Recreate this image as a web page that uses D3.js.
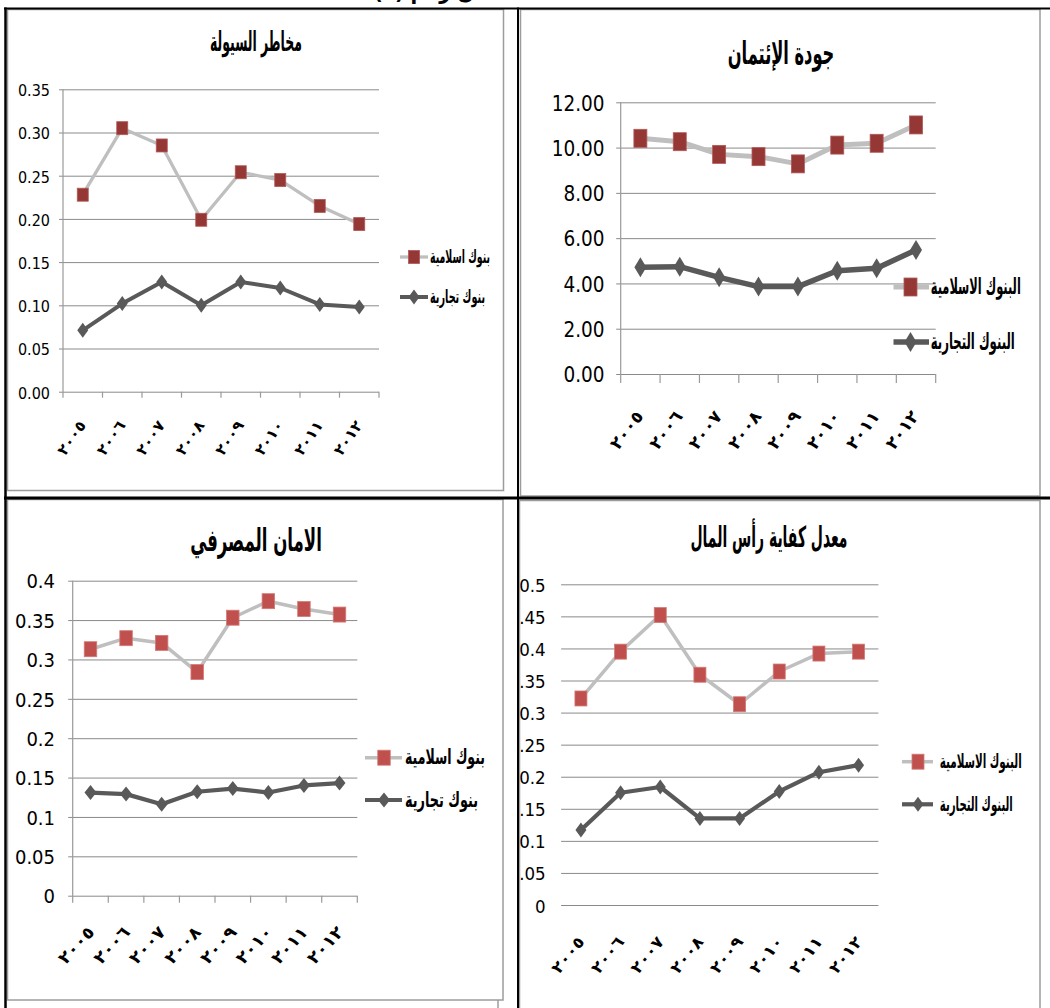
<!DOCTYPE html>
<html><head><meta charset="utf-8">
<script src="https://cdnjs.cloudflare.com/ajax/libs/d3/7.8.5/d3.min.js"></script>
<style>body{margin:0;background:#fff}svg{display:block}</style>
</head><body>
<svg id="c" width="1050" height="1008"></svg>
<script>
// ---------------- DATA ----------------
const years = ["٢٠٠٥","٢٠٠٦","٢٠٠٧","٢٠٠٨","٢٠٠٩","٢٠١٠","٢٠١١","٢٠١٢"];

const titleLiquidity = "مخاطر السيولة";
const titleCredit = "جودة الإئتمان";
const titleSafety = "الامان المصرفي";
const titleCapital = "معدل كفاية رأس المال";

const namesShort = ["بنوك اسلامية", "بنوك تجارية"];
const namesLong = ["البنوك الاسلامية", "البنوك التجارية"];

const liqIslamic    = [0.228, 0.305, 0.285, 0.199, 0.254, 0.245, 0.215, 0.194];
const liqCommercial = [0.071, 0.102, 0.127, 0.100, 0.127, 0.120, 0.101, 0.098];

const credIslamic    = [10.41, 10.26, 9.70, 9.60, 9.28, 10.11, 10.19, 11.00];
const credCommercial = [4.71, 4.74, 4.27, 3.86, 3.86, 4.56, 4.67, 5.48];

const safeIslamic    = [0.313, 0.327, 0.321, 0.284, 0.353, 0.374, 0.364, 0.357];
const safeCommercial = [0.131, 0.129, 0.116, 0.132, 0.136, 0.131, 0.140, 0.143];

const capIslamic    = [0.322, 0.395, 0.452, 0.359, 0.313, 0.364, 0.392, 0.395];
const capCommercial = [0.117, 0.175, 0.184, 0.135, 0.135, 0.177, 0.207, 0.218];

const ticksLiq = [0, 0.05, 0.10, 0.15, 0.20, 0.25, 0.30, 0.35];
const ticksCred = [0, 2, 4, 6, 8, 10, 12];
const ticksSafe = [0, 0.05, 0.1, 0.15, 0.2, 0.25, 0.3, 0.35, 0.4];
const ticksCap = [0, 0.05, 0.1, 0.15, 0.2, 0.25, 0.3, 0.35, 0.4, 0.45, 0.5];

// ---------------- DRAWING ----------------
const svg = d3.select("#c");
const AR = "'DejaVu Sans Condensed','DejaVu Sans', sans-serif";
const NUM = "'Liberation Sans Narrow','DejaVu Sans Condensed','Liberation Sans',sans-serif";
const GRID = "#8a8a8a";
const LIGHT = "#bfbfbf";
const DARK = "#595959";

const fmt2 = d3.format(".2f");
const fmtShort = d => String(+d.toFixed(2));

svg.append("defs").append("clipPath").attr("id", "clipBR")
  .append("rect").attr("x", 519).attr("y", 499).attr("width", 531).attr("height", 509);

// chart frames (gray)
const frames = [
  {x: 7.5, y: 9.5, w: 496, h: 481},
  {x: 520.5, y: 9.5, w: 519.5, h: 486.5},
  {x: 7.5, y: 499.5, w: 495.5, h: 500.5},
  {x: 519.5, y: 500.5, w: 520.5, h: 520}
];
svg.selectAll("rect.frame").data(frames).join("rect").attr("class", "frame")
  .attr("x", d => d.x).attr("y", d => d.y).attr("width", d => d.w).attr("height", d => d.h)
  .attr("fill", "none").attr("stroke", "#9c9c9c").attr("stroke-width", 1.5);
svg.append("line").attr("x1", 498).attr("x2", 498).attr("y1", 1000).attr("y2", 1008)
  .attr("stroke", "#9c9c9c").attr("stroke-width", 1.5);

function drawChart(c) {
  const g = svg.append("g");
  if (c.clip) g.attr("clip-path", "url(#" + c.clip + ")");

  const x = d3.scaleBand().domain(years).range([c.x0, c.x1]);
  const y = d3.scaleLinear().domain([0, c.ymax]).range([c.yb, c.yt]);

  // y axis with gridlines
  const ya = g.append("g").attr("transform", `translate(${c.x0},0)`)
    .call(d3.axisLeft(y).tickValues(c.ticks).tickFormat(c.fmt)
      .tickSize(-(c.x1 - c.x0)).tickPadding(c.x0 - c.labelRight));
  ya.select(".domain").remove();
  ya.selectAll(".tick line").attr("stroke", GRID).attr("stroke-width", 1)
    .attr("x1", -c.tickLeft);
  ya.selectAll(".tick text").attr("font-family", NUM).attr("font-size", c.numSize)
    .attr("fill", "#000").attr("dy", c.numDy + "em");
  ya.selectAll(".tick text").attr("x", -(c.x0 - c.labelRight));

  if (c.axisLine) {
    g.append("line").attr("x1", c.x0).attr("x2", c.x0).attr("y1", c.yt).attr("y2", c.yb + c.xTick)
      .attr("stroke", "#9a9a9a").attr("stroke-width", 1.2);
    const bounds = d3.range(years.length + 1).map(i => c.x0 + i * x.step());
    g.selectAll("line.xt").data(bounds.slice(1)).join("line").attr("class", "xt")
      .attr("x1", d => d).attr("x2", d => d).attr("y1", c.yb).attr("y2", c.yb + c.xTick)
      .attr("stroke", "#9a9a9a").attr("stroke-width", 1.2);
  }

  // x labels (rotated)
  g.selectAll("text.xl").data(years).join("text").attr("class", "xl")
    .attr("transform", d => `translate(${x(d) + x.bandwidth() / 2 + c.xlDx},${c.xlY}) rotate(${c.xlRot})`)
    .attr("text-anchor", "middle").attr("dominant-baseline", "central")
    .attr("font-family", "'DejaVu Sans', sans-serif").attr("font-weight", "bold").attr("font-size", c.xlSize)
    .attr("textLength", c.xlLen).attr("lengthAdjust", "spacingAndGlyphs")
    .text(d => d);

  const line = d3.line().x((d, i) => x(years[i]) + x.bandwidth() / 2).y(d => y(d));

  g.append("path").datum(c.islamic).attr("d", line).attr("fill", "none")
    .attr("stroke", LIGHT).attr("stroke-width", c.lw1).attr("stroke-linejoin", "round");
  g.append("path").datum(c.commercial).attr("d", line).attr("fill", "none")
    .attr("stroke", DARK).attr("stroke-width", c.lw2).attr("stroke-linejoin", "round");

  const sq = c.sq, dm = c.dm;
  g.selectAll("rect.m1").data(c.islamic).join("rect").attr("class", "m1")
    .attr("x", (d, i) => x(years[i]) + x.bandwidth() / 2 - sq[0] / 2)
    .attr("y", d => y(d) - sq[1] / 2)
    .attr("width", sq[0]).attr("height", sq[1]).attr("fill", c.red)
    .attr("stroke", c.redEdge).attr("stroke-width", 0.8);
  const diamond = (cx, cy) => `M${cx},${cy - dm[1] / 2}L${cx + dm[0] / 2},${cy}L${cx},${cy + dm[1] / 2}L${cx - dm[0] / 2},${cy}Z`;
  g.selectAll("path.m2").data(c.commercial).join("path").attr("class", "m2")
    .attr("d", (d, i) => diamond(x(years[i]) + x.bandwidth() / 2, y(d)))
    .attr("fill", DARK);

  // legend
  const lg = c.legend;
  [0, 1].forEach(k => {
    const ly = lg.y[k];
    g.append("line").attr("x1", lg.l0).attr("x2", lg.l1).attr("y1", ly).attr("y2", ly)
      .attr("stroke", k === 0 ? LIGHT : DARK).attr("stroke-width", k === 0 ? c.lw1 : c.lw2);
    if (k === 0) {
      g.append("rect").attr("x", lg.m - sq[0] / 2).attr("y", ly - sq[1] / 2)
        .attr("width", sq[0]).attr("height", sq[1]).attr("fill", c.red)
        .attr("stroke", c.redEdge).attr("stroke-width", 0.8);
    } else {
      g.append("path").attr("d", diamond(lg.m, ly)).attr("fill", DARK);
    }
    g.append("text").attr("x", lg.t0).attr("y", ly + lg.dy)
      .attr("font-family", AR).attr("font-weight", "bold").attr("font-size", lg.size)
      .attr("textLength", lg.len[k]).attr("lengthAdjust", "spacingAndGlyphs")
      .attr("text-anchor", "start")
      .text(c.names[k]);
  });

  // title
  g.append("text").attr("x", c.titleX).attr("y", c.titleY).attr("text-anchor", "middle")
    .attr("font-family", AR).attr("font-weight", "bold").attr("font-size", c.titleSize)
    .attr("textLength", c.titleLen).attr("lengthAdjust", "spacingAndGlyphs")
    .text(c.title);
}

drawChart({
  title: titleLiquidity, islamic: liqIslamic, commercial: liqCommercial, names: namesShort,
  ticks: ticksLiq, fmt: fmt2, ymax: 0.35,
  x0: 63, x1: 379, yb: 391.7, yt: 89.3, labelRight: 50, tickLeft: 4, numSize: 16, numDy: 0.4,
  axisLine: true, xTick: 6,
  xlDx: -11, xlY: 438, xlRot: -55, xlSize: 15, xlLen: 38,
  lw1: 3.3, lw2: 4, sq: [11, 13], dm: [11, 15], red: "#953735", redEdge: "#b05a58",
  legend: {l0: 400, l1: 428, m: 414, t0: 430, dy: 6, y: [257, 297], len: [60, 55], size: 19},
  titleX: 256, titleY: 51, titleSize: 27, titleLen: 92
});

drawChart({
  title: titleCredit, islamic: credIslamic, commercial: credCommercial, names: namesLong,
  ticks: ticksCred, fmt: fmt2, ymax: 12,
  x0: 620.7, x1: 935.7, yb: 374, yt: 102.3, labelRight: 604.5, tickLeft: 4.5, numSize: 20.5, numDy: 0.38,
  axisLine: true, xTick: 9,
  xlDx: -14, xlY: 430, xlRot: -53, xlSize: 17, xlLen: 43,
  lw1: 5, lw2: 5.5, sq: [13, 18], dm: [12, 20], red: "#953735", redEdge: "#b05a58",
  legend: {l0: 893.5, l1: 929, m: 910.5, t0: 930.8, dy: 7, y: [287, 342], len: [90, 84], size: 23},
  titleX: 781, titleY: 64, titleSize: 31, titleLen: 106.5
});

drawChart({
  title: titleSafety, islamic: safeIslamic, commercial: safeCommercial, names: namesShort,
  ticks: ticksSafe, fmt: fmtShort, ymax: 0.4,
  x0: 72.7, x1: 357.3, yb: 895.7, yt: 580.7, labelRight: 55, tickLeft: 4.5, numSize: 20, numDy: 0.36,
  axisLine: true, xTick: 7,
  xlDx: -14.5, xlY: 945, xlRot: -47, xlSize: 17, xlLen: 44,
  lw1: 3.5, lw2: 4.2, sq: [12.5, 15], dm: [12, 15], red: "#c0504d", redEdge: "#d27a77",
  legend: {l0: 365, l1: 402, m: 384, t0: 405, dy: 6.5, y: [757.7, 800], len: [80, 73], size: 21},
  titleX: 256, titleY: 551, titleSize: 31, titleLen: 131.7
});

drawChart({
  title: titleCapital, islamic: capIslamic, commercial: capCommercial, names: namesLong,
  ticks: ticksCap, fmt: fmtShort, ymax: 0.5, clip: "clipBR",
  x0: 561.1, x1: 878.4, yb: 905, yt: 584.3, labelRight: 545.7, tickLeft: 0, numSize: 18.5, numDy: 0.38,
  axisLine: false, xTick: 0,
  xlDx: -13, xlY: 955, xlRot: -51, xlSize: 16, xlLen: 42,
  lw1: 3.5, lw2: 4.2, sq: [12, 15], dm: [11, 15], red: "#c0504d", redEdge: "#d27a77",
  legend: {l0: 902, l1: 933, m: 918, t0: 939.8, dy: 6.5, y: [761.7, 804.3], len: [82, 73], size: 20},
  titleX: 769, titleY: 547, titleSize: 29, titleLen: 157
});

// ---------------- TABLE BORDERS (black) ----------------
const borders = [
  {x1: 4, y1: 8.5, x2: 1050, y2: 8.5, w: 2},
  {x1: 5.5, y1: 7.5, x2: 5.5, y2: 1008, w: 2.5},
  {x1: 518, y1: 7.5, x2: 518, y2: 1008, w: 2},
  {x1: 4, y1: 498, x2: 1050, y2: 498, w: 3}
];
svg.selectAll("line.bd").data(borders).join("line").attr("class", "bd")
  .attr("x1", d => d.x1).attr("y1", d => d.y1).attr("x2", d => d.x2).attr("y2", d => d.y2)
  .attr("stroke", "#000").attr("stroke-width", d => d.w);

// cropped caption above the figure
const capClip = svg.append("clipPath").attr("id", "capClip");
capClip.append("rect").attr("x", 300).attr("y", 0).attr("width", 300).attr("height", 7.5);
svg.append("text").attr("clip-path", "url(#capClip)")
  .attr("x", 440).attr("y", -1).attr("text-anchor", "middle")
  .attr("font-family", AR).attr("font-weight", "bold").attr("font-size", 22)
  .text("شكل رقم (٢)");
</script>
</body></html>
